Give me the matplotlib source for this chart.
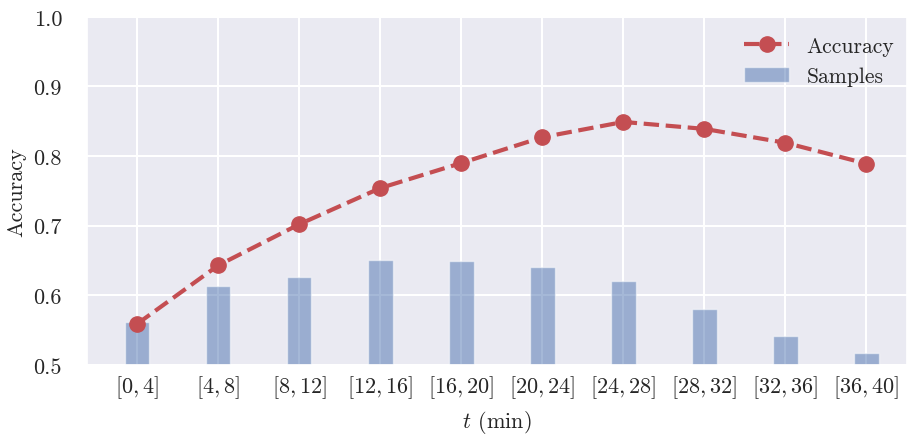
import matplotlib
matplotlib.use("Agg")
import matplotlib.pyplot as plt
import numpy as np
import seaborn as sns

# accuracy per time window and (scaled) sample share drawn as bars
windows = ["[0, 4]", "[4, 8]", "[8, 12]", "[12, 16]", "[16, 20]",
           "[20, 24]", "[24, 28]", "[28, 32]", "[32, 36]", "[36, 40]"]
accuracy = [0.559, 0.643, 0.702, 0.754, 0.790, 0.827, 0.849, 0.839, 0.819, 0.789]
samples = [0.561, 0.613, 0.626, 0.651, 0.649, 0.641, 0.620, 0.580, 0.542, 0.517]

sns.set_theme(style="darkgrid")
plt.rcParams["font.family"] = "serif"
plt.rcParams["font.serif"] = ["cmr10"]
plt.rcParams["mathtext.fontset"] = "cm"
plt.rcParams["axes.formatter.use_mathtext"] = True
plt.rcParams["grid.linewidth"] = 1.5

palette = sns.color_palette("deep")

fig = plt.figure(figsize=(9.07, 4.35), dpi=100)
ax = fig.add_axes([0.096, 0.159, 0.904, 0.8])

x = np.arange(len(windows))
ax.bar(x, samples, width=0.3, color=palette[0], alpha=0.5, label="Samples", zorder=1)
ax.plot(x, accuracy, "--o", color=palette[3], lw=3, markersize=11,
        label="Accuracy", zorder=3)

ax.set_ylim(0.5, 1.0)
ax.set_xlim(-0.62, 9.5)
ax.set_yticks(np.arange(0.5, 1.01, 0.1))
ax.set_yticklabels(["%.1f" % v for v in np.arange(0.5, 1.01, 0.1)])
ax.set_xticks(x)
ax.set_xticklabels(["$%s$" % w for w in windows])
ax.tick_params(axis="both", labelsize=16)
ax.tick_params(axis="y", pad=12)
ax.tick_params(axis="x", pad=0)
ax.set_ylabel("Accuracy", fontsize=16)
ax.yaxis.set_label_coords(-0.074, 0.5)
ax.set_xlabel("$t$ (min)", fontsize=16, labelpad=6)

ax.legend(loc="upper right", fontsize=15.5, frameon=False, handlelength=2.1,
          borderaxespad=0.5, bbox_to_anchor=(1.008, 1.0))

fig.savefig("out.png", dpi=100)
